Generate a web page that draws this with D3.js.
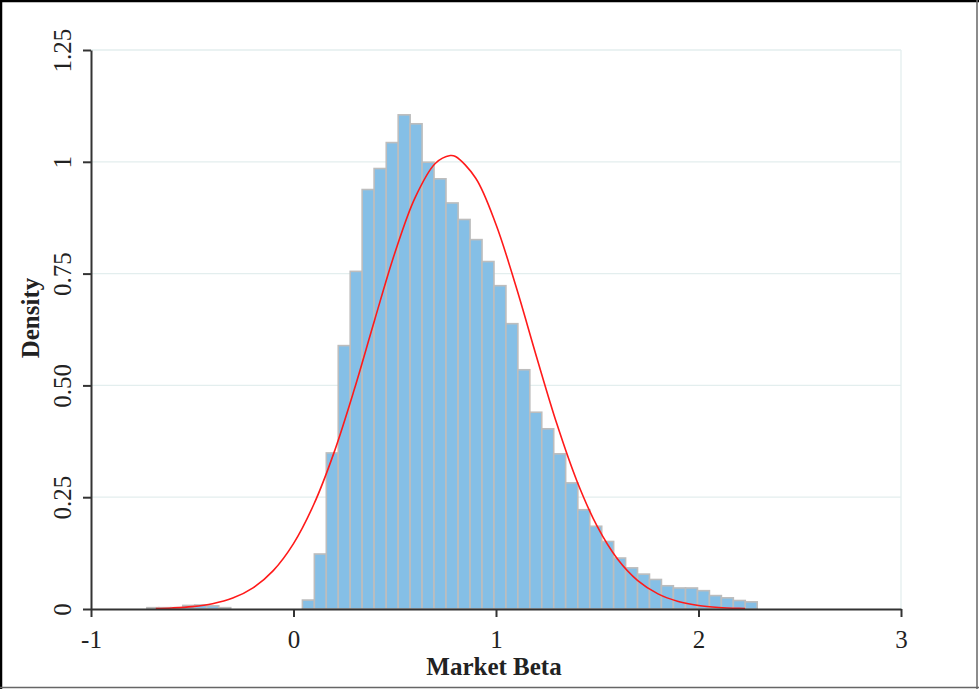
<!DOCTYPE html>
<html>
<head>
<meta charset="utf-8">
<script src="https://cdn.jsdelivr.net/npm/d3@7"></script>
<style>
  html, body { margin: 0; padding: 0; background: #fff; }
  svg { display: block; }
</style>
</head>
<body>
<svg id="chart" width="979" height="689"></svg>
<script>
// ---- data ----
const binEdges = [-0.724, -0.665, -0.606, -0.547, -0.488, -0.429, -0.369, -0.310, -0.251, -0.192,
  -0.133, -0.074, -0.015, 0.044, 0.103, 0.162, 0.221, 0.280, 0.339, 0.398,
  0.458, 0.517, 0.576, 0.635, 0.694, 0.753, 0.813, 0.872, 0.931, 0.990,
  1.049, 1.108, 1.167, 1.226, 1.285, 1.344, 1.404, 1.463, 1.522, 1.581,
  1.640, 1.699, 1.758, 1.817, 1.876, 1.936, 1.995, 2.054, 2.113, 2.172,
  2.231, 2.290];
const binDensity = [0.003, 0.003, 0.003, 0.008, 0.009, 0.007, 0.003, 0, 0, 0,
  0, 0, 0, 0.020, 0.123, 0.349, 0.589, 0.755, 0.938, 0.985,
  1.043, 1.105, 1.085, 0.999, 0.962, 0.908, 0.871, 0.826, 0.777, 0.723,
  0.638, 0.535, 0.440, 0.403, 0.347, 0.282, 0.222, 0.185, 0.151, 0.114,
  0.092, 0.078, 0.066, 0.052, 0.047, 0.047, 0.041, 0.030, 0.025, 0.019,
  0.016];
const curveX = [-0.68, -0.6, -0.5, -0.4, -0.3, -0.2, -0.1, 0, 0.1, 0.2, 0.3, 0.4, 0.5, 0.6, 0.7, 0.774,
  0.8, 0.9, 1.0, 1.1, 1.2, 1.3, 1.4, 1.5, 1.6, 1.7, 1.8, 1.9, 2.0, 2.1, 2.2, 2.23];
const curveY = [0.001, 0.0023, 0.0054, 0.0118, 0.0244, 0.0473, 0.0859, 0.1463, 0.2336, 0.3497, 0.4907, 0.6453, 0.7956, 0.9195, 0.9963, 1.014,
  1.0118, 0.9633, 0.8598, 0.7193, 0.5642, 0.4147, 0.2858, 0.1846, 0.1118, 0.0635, 0.0338, 0.0169, 0.0079, 0.0035, 0.0014, 0.0011];
const xTicks = [-1, 0, 1, 2, 3];
const xTickLabels = ["-1", "0", "1", "2", "3"];
const yTicks = [0, 0.25, 0.5, 0.75, 1, 1.25];
const yTickLabels = ["0", "0.25", "0.50", "0.75", "1", "1.25"];
const xTitle = "Market Beta";
const yTitle = "Density";

// ---- layout ----
const svg = d3.select("#chart");
const plotL = 91, plotR = 901, plotT = 50, plotB = 609;
const x = d3.scaleLinear().domain([-1, 3]).range([plotL, plotR]);
const y = d3.scaleLinear().domain([0, 1.25]).range([plotB, plotT]);
const font = "'Liberation Serif', 'Times New Roman', serif";

// frame
svg.append("line").attr("x1", 1).attr("x2", 1).attr("y1", 0).attr("y2", 689).attr("stroke", "#000").attr("stroke-width", 2.5);
svg.append("line").attr("x1", 0).attr("x2", 979).attr("y1", 1).attr("y2", 1).attr("stroke", "#000").attr("stroke-width", 2.5);
svg.append("line").attr("x1", 977).attr("x2", 977).attr("y1", 0).attr("y2", 689).attr("stroke", "#666").attr("stroke-width", 1.5);
svg.append("line").attr("x1", 0).attr("x2", 979).attr("y1", 687.5).attr("y2", 687.5).attr("stroke", "#666").attr("stroke-width", 1.5);

// gridlines
svg.append("g").selectAll("line").data(yTicks.filter(d => d > 0)).join("line")
  .attr("x1", plotL).attr("x2", plotR)
  .attr("y1", d => y(d)).attr("y2", d => y(d))
  .attr("stroke", "#e3eeee").attr("stroke-width", 1.3);
svg.append("line").attr("x1", plotR).attr("x2", plotR).attr("y1", plotT).attr("y2", plotB)
  .attr("stroke", "#e3eeee").attr("stroke-width", 1.3);

// bars
const bins = binDensity.map((d, i) => ({ x0: binEdges[i], x1: binEdges[i + 1], v: d })).filter(b => b.v > 0);
svg.append("g").selectAll("rect").data(bins).join("rect")
  .attr("x", d => x(d.x0))
  .attr("width", d => x(d.x1) - x(d.x0))
  .attr("y", d => y(d.v))
  .attr("height", d => y(0) - y(d.v))
  .attr("fill", "#85bfe6")
  .attr("stroke", "#bdbdbd")
  .attr("stroke-width", 1.6);

// curve
const pts = curveX.map((d, i) => [d, curveY[i]]);
svg.append("path").datum(pts)
  .attr("d", d3.line().x(d => x(d[0])).y(d => y(d[1])).curve(d3.curveCatmullRom))
  .attr("fill", "none").attr("stroke", "#ff1a1a").attr("stroke-width", 1.6);

// axes
const xAxis = svg.append("g").attr("transform", `translate(0,${plotB})`)
  .call(d3.axisBottom(x).tickValues(xTicks).tickFormat((d, i) => xTickLabels[i]).tickSize(8).tickSizeOuter(0));
const yAxis = svg.append("g").attr("transform", `translate(${plotL},0)`)
  .call(d3.axisLeft(y).tickValues(yTicks).tickFormat((d, i) => yTickLabels[i]).tickSize(8).tickSizeOuter(0));
[xAxis, yAxis].forEach(a => {
  a.select(".domain").attr("stroke", "#333").attr("stroke-width", 2);
  a.selectAll(".tick line").attr("stroke", "#333").attr("stroke-width", 2);
  a.selectAll(".tick text").attr("fill", "#222").style("font-family", font).style("font-size", "25px");
});
xAxis.selectAll(".tick text").attr("y", 39).attr("dy", 0);
yAxis.selectAll(".tick text")
  .attr("transform", "rotate(-90)")
  .attr("x", 0).attr("y", -20).attr("dy", 0)
  .attr("text-anchor", "middle");

// titles
svg.append("text").attr("x", 494).attr("y", 675).attr("text-anchor", "middle")
  .style("font-family", font).style("font-size", "25px").style("font-weight", "bold").attr("fill", "#222")
  .text(xTitle);
svg.append("text").attr("transform", "translate(39,318) rotate(-90)").attr("text-anchor", "middle")
  .style("font-family", font).style("font-size", "25px").style("font-weight", "bold").attr("fill", "#222")
  .text(yTitle);
</script>
</body>
</html>
